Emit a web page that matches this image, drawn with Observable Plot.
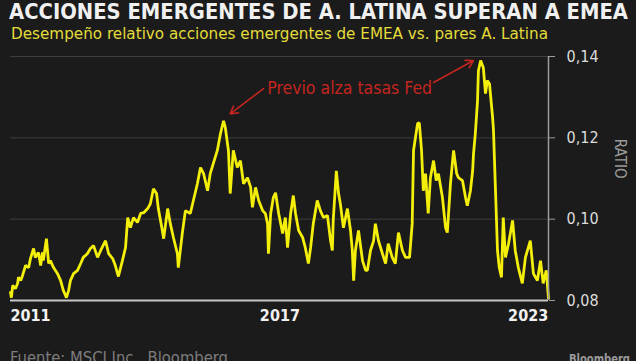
<!DOCTYPE html>
<html><head><meta charset="utf-8">
<script src="https://cdn.jsdelivr.net/npm/d3@7"></script>
<script src="https://cdn.jsdelivr.net/npm/@observablehq/plot@0.6"></script>
<style>
html,body{margin:0;padding:0;background:#1b1b1b;width:636px;height:361px;overflow:hidden;}
body{position:relative;font-family:"DejaVu Sans Condensed","DejaVu Sans",sans-serif;font-stretch:condensed;}
.fit{position:absolute;white-space:nowrap;transform-origin:0 0;line-height:1;}
#title{left:9px;top:1px;font-size:22px;font-weight:bold;color:#f0f0f0;}
#subtitle{left:11px;top:27px;font-size:15px;color:#e3dc3a;}
#chart{position:absolute;left:0;top:44px;}
#source{left:10px;top:351px;font-size:15px;color:#7e7e7e;}
#brand{left:569px;top:352px;font-size:13px;font-weight:bold;color:#9a9a9a;}
</style></head>
<body>
<div id="title" class="fit" data-w="619">ACCIONES EMERGENTES DE A. LATINA SUPERAN A EMEA</div>
<div id="subtitle" class="fit" data-w="537">Desempeño relativo acciones emergentes de EMEA vs. pares A. Latina</div>
<div id="chart"></div>
<div id="source" class="fit" data-w="218">Fuente: MSCI Inc., Bloomberg</div>
<div id="brand" class="fit" data-w="61">Bloomberg</div>
<script>
// decimal years (time) and EMEA / LatAm ratio
const years = [
2011.00,2011.02,2011.05,2011.11,2011.16,2011.18,2011.23,2011.27,2011.34,2011.41,
2011.45,2011.52,2011.56,2011.63,2011.68,2011.72,2011.74,2011.81,2011.86,2011.90,
2011.97,2012.06,2012.13,2012.19,2012.26,2012.31,2012.35,2012.42,2012.51,2012.58,
2012.64,2012.73,2012.80,2012.87,2012.96,2013.03,2013.14,2013.21,2013.30,2013.36,
2013.43,2013.52,2013.59,2013.64,2013.70,2013.77,2013.86,2013.93,2014.00,2014.09,
2014.15,2014.22,2014.29,2014.33,2014.42,2014.45,2014.54,2014.60,2014.67,2014.76,
2014.78,2014.87,2014.94,2015.05,2015.12,2015.21,2015.28,2015.35,2015.44,2015.50,
2015.57,2015.66,2015.73,2015.80,2015.84,2015.91,2015.95,2016.02,2016.11,2016.18,
2016.25,2016.34,2016.41,2016.45,2016.52,2016.59,2016.68,2016.74,2016.79,2016.81,
2016.86,2016.92,2016.97,2017.04,2017.13,2017.19,2017.24,2017.31,2017.37,2017.42,
2017.49,2017.58,2017.64,2017.71,2017.76,2017.82,2017.91,2017.98,2018.05,2018.14,
2018.21,2018.25,2018.27,2018.34,2018.39,2018.43,2018.50,2018.59,2018.66,2018.70,
2018.73,2018.77,2018.84,2018.93,2019.00,2019.04,2019.11,2019.18,2019.22,2019.29,
2019.38,2019.45,2019.51,2019.60,2019.67,2019.74,2019.83,2019.90,2019.99,2020.05,
2020.08,2020.17,2020.21,2020.26,2020.30,2020.35,2020.41,2020.46,2020.53,2020.59,
2020.64,2020.73,2020.80,2020.84,2020.91,2020.98,2021.05,2021.09,2021.18,2021.25,
2021.29,2021.36,2021.41,2021.43,2021.47,2021.52,2021.54,2021.59,2021.65,2021.70,
2021.74,2021.79,2021.86,2021.88,2021.92,2021.97,2022.01,2022.06,2022.10,2022.15,
2022.22,2022.31,2022.37,2022.44,2022.53,2022.60,2022.71,2022.78,2022.87,2022.94,
2023.00,2023.07,2023.12];
const ratios = [
0.0820,0.0807,0.0837,0.0829,0.0842,0.0857,0.0849,0.0861,0.0886,0.0881,
0.0903,0.0928,0.0906,0.0918,0.0886,0.0918,0.0898,0.0952,0.0891,0.0898,
0.0881,0.0866,0.0849,0.0825,0.0807,0.0825,0.0849,0.0866,0.0874,0.0891,
0.0906,0.0915,0.0928,0.0935,0.0906,0.0923,0.0947,0.0915,0.0903,0.0886,
0.0859,0.0898,0.0930,0.1004,0.0979,0.1004,0.0992,0.1014,0.1016,0.1026,
0.1038,0.1075,0.1063,0.1026,0.0972,0.0952,0.1026,0.0989,0.0955,0.0915,
0.0881,0.0965,0.1021,0.1014,0.1046,0.1087,0.1127,0.1112,0.1070,0.1112,
0.1137,0.1169,0.1210,0.1242,0.1225,0.1169,0.1063,0.1169,0.1127,0.1144,
0.1087,0.1102,0.1078,0.1029,0.1078,0.1046,0.1021,0.1014,0.0989,0.0915,
0.1014,0.1053,0.1065,0.1014,0.0965,0.1004,0.0930,0.1014,0.1058,0.1014,
0.0972,0.0955,0.0930,0.0891,0.0930,0.0989,0.1046,0.1021,0.1004,0.1009,
0.0947,0.0923,0.0997,0.1119,0.1063,0.1038,0.0979,0.1026,0.0972,0.0923,
0.0849,0.0923,0.0972,0.0898,0.0874,0.0874,0.0923,0.0947,0.0989,0.0947,
0.0915,0.0891,0.0940,0.0906,0.0891,0.0967,0.0923,0.0906,0.0906,0.0989,
0.1169,0.1235,0.1237,0.1169,0.1070,0.1112,0.1014,0.1102,0.1144,0.1095,
0.1112,0.1053,0.0979,0.0967,0.1087,0.1169,0.1112,0.1102,0.1095,0.1053,
0.1033,0.1070,0.1119,0.1161,0.1210,0.1291,0.1365,0.1390,0.1373,0.1309,
0.1341,0.1333,0.1250,0.1218,0.1087,0.0923,0.0881,0.0857,0.1004,0.0906,
0.0940,0.0997,0.0923,0.0881,0.0842,0.0906,0.0947,0.0866,0.0849,0.0898,
0.0842,0.0874,0.0805];
const xTickYears = [2011, 2017, 2023];
const xTickLabels = ["2011", "2017", "2023"];
const yTicks = [0.08, 0.10, 0.12, 0.14];
const yLabel = "RATIO";
const annotationText = "Previo alza tasas Fed";
const annotationAt = [2018.64, 0.1321];
const arrowStartYears = [2016.70, 2020.53];
const arrowStartRatios = [0.1321, 0.1336];
const arrowEndYears = [2015.95, 2021.43];
const arrowEndRatios = [0.1259, 0.1390];
const xDomainYears = [2011.0, 2023.12];

function yearToDate(t) {
  const y = Math.floor(t);
  const a = Date.UTC(y, 0, 1), b = Date.UTC(y + 1, 0, 1);
  return new Date(a + (t - y) * (b - a));
}
const data = years.map((t, i) => ({date: yearToDate(t), ratio: ratios[i]}));
const ticks = xTickYears.map((t, i) => ({date: yearToDate(t), label: xTickLabels[i]}));
const arrows = arrowStartYears.map((t, i) => ({
  x1: yearToDate(t), y1: arrowStartRatios[i], x2: yearToDate(arrowEndYears[i]), y2: arrowEndRatios[i]
}));
const domain = xDomainYears.map(yearToDate);
const red = "#c4261f";
const font = '"DejaVu Sans Condensed","DejaVu Sans",sans-serif';

const chart = Plot.plot({
  width: 636, height: 290,
  marginTop: 12, marginBottom: 34, marginLeft: 10, marginRight: 88,
  style: {background: "transparent", color: "#d8d8d8", fontFamily: font, fontSize: "16px", fontStretch: "condensed"},
  x: {type: "utc", domain, axis: null},
  y: {domain: [yTicks[0], yTicks[yTicks.length - 1]], axis: null},
  marks: [
    Plot.gridY(yTicks.slice(1), {stroke: "#3e3e3e", strokeOpacity: 1, strokeWidth: 1}),
    Plot.line(data, {x: "date", y: "ratio", stroke: "#f3ee0a", strokeWidth: 2.8, strokeLinejoin: "miter"}),
    Plot.ruleY([yTicks[0]], {stroke: "#c6c6c6", strokeWidth: 2}),
    Plot.ruleX([domain[1]], {y1: yTicks[0], y2: yTicks[yTicks.length - 1], stroke: "#9c9c9c", strokeWidth: 1.5}),
    Plot.axisY(yTicks, {anchor: "right", tickSize: 6, tickPadding: 12, stroke: "#9c9c9c", fill: "#dcdcdc",
      fontSize: 16, label: null, tickFormat: d => d.toFixed(2).replace(".", ",")}),
    Plot.text([yLabel], {frameAnchor: "right", dx: 71, rotate: 90, fill: "#9a9a9a", fontSize: 15}),
    Plot.text(ticks.slice(0, 1), {x: "date", text: "label", frameAnchor: "bottom", lineAnchor: "top", dy: 9, textAnchor: "start", fill: "#f2f2f2", fontWeight: "bold", fontSize: 16}),
    Plot.text(ticks.slice(1, 2), {x: "date", text: "label", frameAnchor: "bottom", lineAnchor: "top", dy: 9, dx: 3, textAnchor: "middle", fill: "#f2f2f2", fontWeight: "bold", fontSize: 16}),
    Plot.text(ticks.slice(2), {x: "date", text: "label", frameAnchor: "bottom", lineAnchor: "top", dy: 9, dx: 5, textAnchor: "end", fill: "#f2f2f2", fontWeight: "bold", fontSize: 16}),
    Plot.arrow(arrows, {x1: "x1", y1: "y1", x2: "x2", y2: "y2", stroke: red, strokeWidth: 1.6, headLength: 8}),
    Plot.text([annotationText], {x: () => yearToDate(annotationAt[0]), y: () => annotationAt[1], fill: red, fontSize: 17.5, fontWeight: "normal"})
  ]
});
document.getElementById("chart").appendChild(chart);

document.querySelectorAll(".fit").forEach(el => {
  const target = +el.dataset.w;
  const w = el.getBoundingClientRect().width;
  if (w > 0) el.style.transform = `scaleX(${target / w})`;
});
</script>
</body></html>
